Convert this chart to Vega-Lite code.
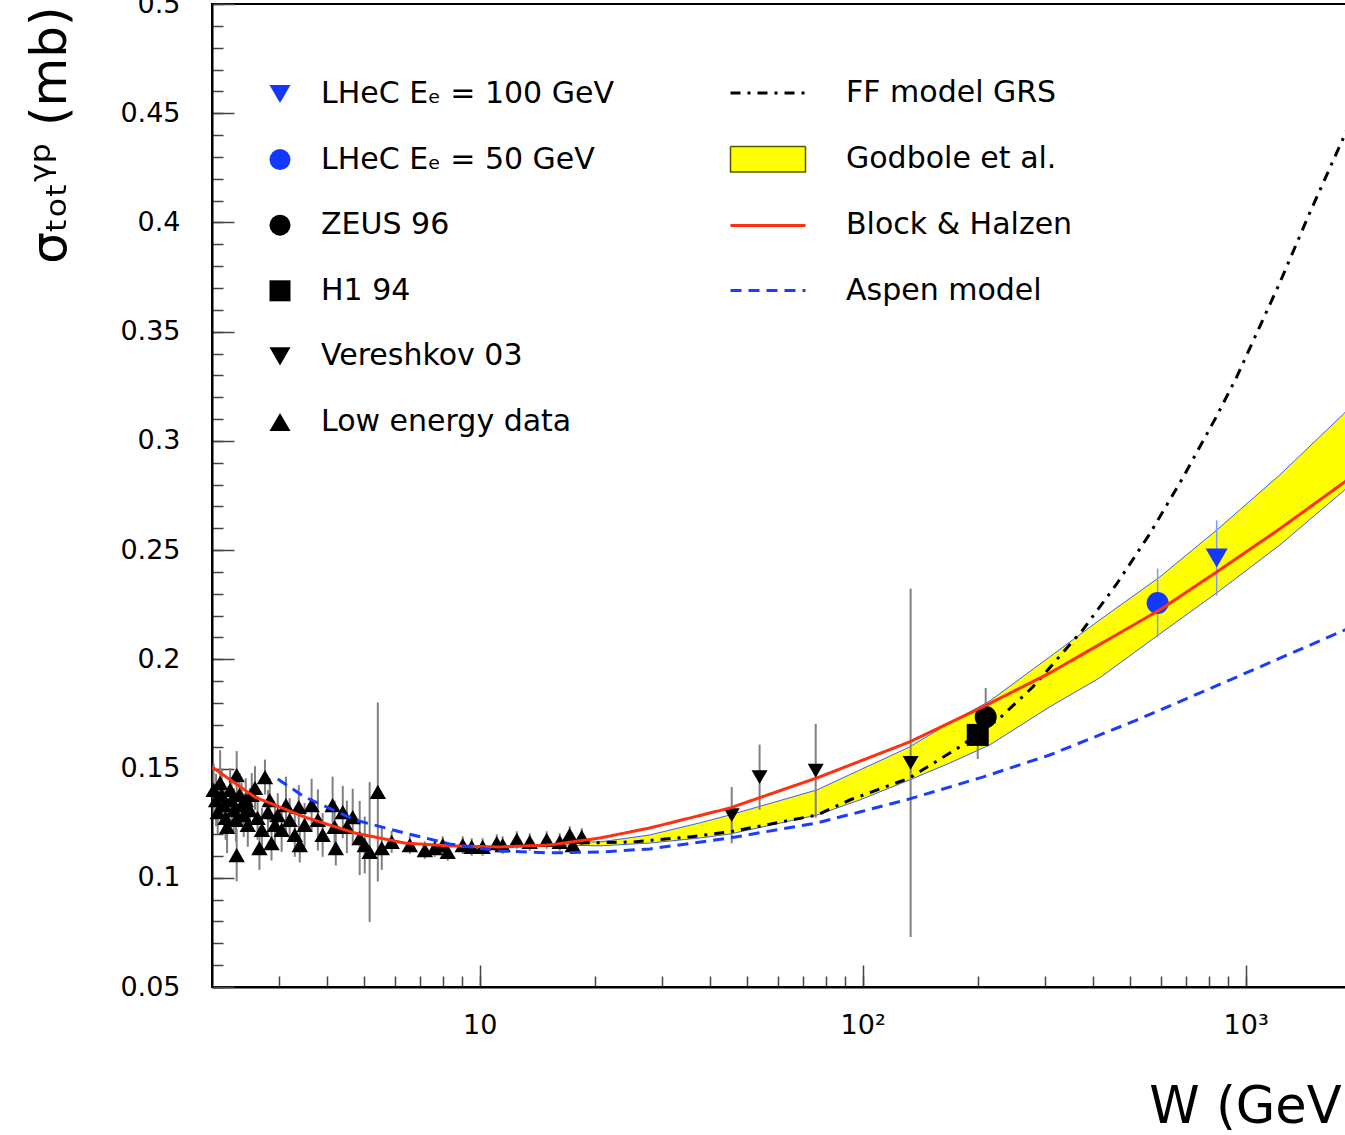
{
  "$schema": "https://vega.github.io/schema/vega-lite/v6.json",
  "width": 1140,
  "height": 983,
  "autosize": {"type": "none"},
  "padding": {"left": 212, "top": 4, "right": -7, "bottom": 148},
  "background": "white",
  "config": {"view": {"stroke": "#000", "strokeWidth": 2}, "font": "DejaVu Sans"},
  "datasets": {
    "band": [
      {"W": 16.47, "s": 0.1150, "s2": 0.1164},
      {"W": 20.6, "s": 0.1146, "s2": 0.1164},
      {"W": 27.8, "s": 0.1159, "s2": 0.1196},
      {"W": 37.5, "s": 0.1182, "s2": 0.1251},
      {"W": 44.9, "s": 0.1200, "s2": 0.1287},
      {"W": 75.9, "s": 0.1287, "s2": 0.1402},
      {"W": 98.2, "s": 0.1356, "s2": 0.1493},
      {"W": 132.6, "s": 0.1448, "s2": 0.1599},
      {"W": 168.7, "s": 0.1525, "s2": 0.1709},
      {"W": 214.6, "s": 0.1608, "s2": 0.1809},
      {"W": 307.7, "s": 0.1782, "s2": 0.2011},
      {"W": 415.6, "s": 0.1915, "s2": 0.2180},
      {"W": 596.5, "s": 0.2116, "s2": 0.2377},
      {"W": 840.3, "s": 0.2304, "s2": 0.2592},
      {"W": 1227, "s": 0.2523, "s2": 0.2844},
      {"W": 1813, "s": 0.2775, "s2": 0.3128},
      {"W": 1895, "s": 0.2820, "s2": 0.3180}
    ],
    "curves": [
      {"model": "FF model GRS", "W": 18.24, "s": 0.1159},
      {"model": "FF model GRS", "W": 25.1, "s": 0.1164},
      {"model": "FF model GRS", "W": 35.3, "s": 0.1187},
      {"model": "FF model GRS", "W": 44.9, "s": 0.1210},
      {"model": "FF model GRS", "W": 75.9, "s": 0.1287},
      {"model": "FF model GRS", "W": 92.5, "s": 0.1356},
      {"model": "FF model GRS", "W": 132.6, "s": 0.1457},
      {"model": "FF model GRS", "W": 179.2, "s": 0.1599},
      {"model": "FF model GRS", "W": 227.9, "s": 0.1731},
      {"model": "FF model GRS", "W": 277.9, "s": 0.1873},
      {"model": "FF model GRS", "W": 375.3, "s": 0.2134},
      {"model": "FF model GRS", "W": 460.5, "s": 0.2345},
      {"model": "FF model GRS", "W": 561.6, "s": 0.2574},
      {"model": "FF model GRS", "W": 684.7, "s": 0.2830},
      {"model": "FF model GRS", "W": 840.3, "s": 0.3114},
      {"model": "FF model GRS", "W": 947, "s": 0.3292},
      {"model": "FF model GRS", "W": 1227, "s": 0.3723},
      {"model": "FF model GRS", "W": 1469, "s": 0.4043},
      {"model": "FF model GRS", "W": 1813, "s": 0.4400},
      {"model": "FF model GRS", "W": 1895, "s": 0.4480},
      {"model": "Block & Halzen", "W": 2.0, "s": 0.1507},
      {"model": "Block & Halzen", "W": 2.585, "s": 0.1370},
      {"model": "Block & Halzen", "W": 3.49, "s": 0.1278},
      {"model": "Block & Halzen", "W": 4.72, "s": 0.1205},
      {"model": "Block & Halzen", "W": 6.37, "s": 0.1159},
      {"model": "Block & Halzen", "W": 8.35, "s": 0.1146},
      {"model": "Block & Halzen", "W": 11.28, "s": 0.1141},
      {"model": "Block & Halzen", "W": 15.23, "s": 0.1150},
      {"model": "Block & Halzen", "W": 20.6, "s": 0.1182},
      {"model": "Block & Halzen", "W": 27.8, "s": 0.1228},
      {"model": "Block & Halzen", "W": 44.9, "s": 0.1319},
      {"model": "Block & Halzen", "W": 75.9, "s": 0.1457},
      {"model": "Block & Halzen", "W": 132.6, "s": 0.1622},
      {"model": "Block & Halzen", "W": 205.8, "s": 0.1782},
      {"model": "Block & Halzen", "W": 307.7, "s": 0.1937},
      {"model": "Block & Halzen", "W": 596.5, "s": 0.2226},
      {"model": "Block & Halzen", "W": 840.3, "s": 0.2400},
      {"model": "Block & Halzen", "W": 1227, "s": 0.2597},
      {"model": "Block & Halzen", "W": 1813, "s": 0.2812},
      {"model": "Block & Halzen", "W": 1895, "s": 0.2840},
      {"model": "Aspen model", "W": 2.97, "s": 0.1452},
      {"model": "Aspen model", "W": 3.49, "s": 0.1370},
      {"model": "Aspen model", "W": 4.72, "s": 0.1265},
      {"model": "Aspen model", "W": 6.37, "s": 0.1205},
      {"model": "Aspen model", "W": 8.35, "s": 0.1155},
      {"model": "Aspen model", "W": 11.28, "s": 0.1123},
      {"model": "Aspen model", "W": 15.23, "s": 0.1114},
      {"model": "Aspen model", "W": 20.6, "s": 0.1118},
      {"model": "Aspen model", "W": 27.8, "s": 0.1132},
      {"model": "Aspen model", "W": 44.9, "s": 0.1182},
      {"model": "Aspen model", "W": 75.9, "s": 0.1251},
      {"model": "Aspen model", "W": 98.2, "s": 0.1301},
      {"model": "Aspen model", "W": 132.6, "s": 0.1361},
      {"model": "Aspen model", "W": 205.8, "s": 0.1461},
      {"model": "Aspen model", "W": 307.7, "s": 0.1562},
      {"model": "Aspen model", "W": 519.4, "s": 0.1722},
      {"model": "Aspen model", "W": 908, "s": 0.1905},
      {"model": "Aspen model", "W": 1813, "s": 0.2134},
      {"model": "Aspen model", "W": 1895, "s": 0.2150}
    ],
    "lowE": [
      {"W": 2.02, "s": 0.1402, "e": 0.012, "series": "Low energy data"},
      {"W": 2.05, "s": 0.1356, "e": 0.012, "series": "Low energy data"},
      {"W": 2.07, "s": 0.1301, "e": 0.010, "series": "Low energy data"},
      {"W": 2.10, "s": 0.1434, "e": 0.015, "series": "Low energy data"},
      {"W": 2.12, "s": 0.1379, "e": 0.012, "series": "Low energy data"},
      {"W": 2.15, "s": 0.1333, "e": 0.010, "series": "Low energy data"},
      {"W": 2.17, "s": 0.1274, "e": 0.010, "series": "Low energy data"},
      {"W": 2.19, "s": 0.1233, "e": 0.012, "series": "Low energy data"},
      {"W": 2.23, "s": 0.1402, "e": 0.010, "series": "Low energy data"},
      {"W": 2.25, "s": 0.1356, "e": 0.010, "series": "Low energy data"},
      {"W": 2.28, "s": 0.1310, "e": 0.010, "series": "Low energy data"},
      {"W": 2.31, "s": 0.1265, "e": 0.010, "series": "Low energy data"},
      {"W": 2.32, "s": 0.1470, "e": 0.011, "series": "Low energy data"},
      {"W": 2.32, "s": 0.1104, "e": 0.012, "series": "Low energy data"},
      {"W": 2.36, "s": 0.1379, "e": 0.010, "series": "Low energy data"},
      {"W": 2.39, "s": 0.1333, "e": 0.010, "series": "Low energy data"},
      {"W": 2.42, "s": 0.1287, "e": 0.010, "series": "Low energy data"},
      {"W": 2.45, "s": 0.1356, "e": 0.010, "series": "Low energy data"},
      {"W": 2.48, "s": 0.1242, "e": 0.010, "series": "Low energy data"},
      {"W": 2.51, "s": 0.1310, "e": 0.010, "series": "Low energy data"},
      {"W": 2.54, "s": 0.1379, "e": 0.010, "series": "Low energy data"},
      {"W": 2.59, "s": 0.1411, "e": 0.010, "series": "Low energy data"},
      {"W": 2.63, "s": 0.1274, "e": 0.010, "series": "Low energy data"},
      {"W": 2.66, "s": 0.1136, "e": 0.010, "series": "Low energy data"},
      {"W": 2.70, "s": 0.1219, "e": 0.010, "series": "Low energy data"},
      {"W": 2.75, "s": 0.1461, "e": 0.008, "series": "Low energy data"},
      {"W": 2.80, "s": 0.1301, "e": 0.010, "series": "Low energy data"},
      {"W": 2.83, "s": 0.1356, "e": 0.010, "series": "Low energy data"},
      {"W": 2.86, "s": 0.1159, "e": 0.008, "series": "Low energy data"},
      {"W": 2.92, "s": 0.1242, "e": 0.010, "series": "Low energy data"},
      {"W": 2.97, "s": 0.1287, "e": 0.010, "series": "Low energy data"},
      {"W": 3.04, "s": 0.1219, "e": 0.010, "series": "Low energy data"},
      {"W": 3.12, "s": 0.1333, "e": 0.013, "series": "Low energy data"},
      {"W": 3.19, "s": 0.1265, "e": 0.010, "series": "Low energy data"},
      {"W": 3.29, "s": 0.1196, "e": 0.010, "series": "Low energy data"},
      {"W": 3.37, "s": 0.1324, "e": 0.010, "series": "Low energy data"},
      {"W": 3.39, "s": 0.1150, "e": 0.008, "series": "Low energy data"},
      {"W": 3.49, "s": 0.1242, "e": 0.010, "series": "Low energy data"},
      {"W": 3.64, "s": 0.1333, "e": 0.012, "series": "Low energy data"},
      {"W": 3.78, "s": 0.1265, "e": 0.014, "series": "Low energy data"},
      {"W": 3.89, "s": 0.1196, "e": 0.010, "series": "Low energy data"},
      {"W": 4.13, "s": 0.1333, "e": 0.013, "series": "Low energy data"},
      {"W": 4.18, "s": 0.1233, "e": 0.012, "series": "Low energy data"},
      {"W": 4.21, "s": 0.1136, "e": 0.008, "series": "Low energy data"},
      {"W": 4.39, "s": 0.1301, "e": 0.012, "series": "Low energy data"},
      {"W": 4.50, "s": 0.1233, "e": 0.012, "series": "Low energy data"},
      {"W": 4.66, "s": 0.1278, "e": 0.013, "series": "Low energy data"},
      {"W": 4.86, "s": 0.1182, "e": 0.017, "series": "Low energy data"},
      {"W": 5.01, "s": 0.1150, "e": 0.013, "series": "Low energy data"},
      {"W": 5.16, "s": 0.1118, "e": 0.032, "series": "Low energy data"},
      {"W": 5.42, "s": 0.1393, "e": 0.041, "series": "Low energy data"},
      {"W": 5.55, "s": 0.1136, "e": 0.010, "series": "Low energy data"},
      {"W": 5.89, "s": 0.1164, "e": 0.005, "series": "Low energy data"},
      {"W": 6.57, "s": 0.1150, "e": 0.004, "series": "Low energy data"},
      {"W": 7.19, "s": 0.1127, "e": 0.004, "series": "Low energy data"},
      {"W": 7.63, "s": 0.1136, "e": 0.004, "series": "Low energy data"},
      {"W": 8.01, "s": 0.1150, "e": 0.004, "series": "Low energy data"},
      {"W": 8.25, "s": 0.1118, "e": 0.004, "series": "Low energy data"},
      {"W": 9.03, "s": 0.1150, "e": 0.004, "series": "Low energy data"},
      {"W": 9.53, "s": 0.1141, "e": 0.004, "series": "Low energy data"},
      {"W": 10.18, "s": 0.1141, "e": 0.004, "series": "Low energy data"},
      {"W": 11.08, "s": 0.1159, "e": 0.004, "series": "Low energy data"},
      {"W": 11.48, "s": 0.1150, "e": 0.004, "series": "Low energy data"},
      {"W": 12.50, "s": 0.1173, "e": 0.004, "series": "Low energy data"},
      {"W": 13.51, "s": 0.1164, "e": 0.004, "series": "Low energy data"},
      {"W": 14.96, "s": 0.1173, "e": 0.004, "series": "Low energy data"},
      {"W": 16.18, "s": 0.1164, "e": 0.004, "series": "Low energy data"},
      {"W": 17.18, "s": 0.1196, "e": 0.004, "series": "Low energy data"},
      {"W": 17.50, "s": 0.1150, "e": 0.004, "series": "Low energy data"},
      {"W": 18.47, "s": 0.1187, "e": 0.004, "series": "Low energy data"}
    ],
    "vere": [
      {"W": 45.5, "s": 0.1287, "e": 0.0129, "series": "Vereshkov 03"},
      {"W": 53.8, "s": 0.1461, "e": 0.0149, "series": "Vereshkov 03"},
      {"W": 75.4, "s": 0.1490, "e": 0.0215, "series": "Vereshkov 03"},
      {"W": 133.4, "s": 0.1526, "e": 0.0797, "series": "Vereshkov 03"}
    ],
    "hera": [
      {"W": 209.5, "s": 0.1736, "e": 0.0133, "series": "ZEUS 96"},
      {"W": 199.7, "s": 0.1654, "e": 0.0110, "series": "H1 94"}
    ],
    "lhec": [
      {"W": 840, "s": 0.2464, "e": 0.0172, "series": "LHeC Eₑ = 100 GeV"},
      {"W": 589, "s": 0.2258, "e": 0.0158, "series": "LHeC Eₑ = 50 GeV"}
    ]
  },
  "encoding": {
    "x": {
      "field": "W", "type": "quantitative", "title": "W (GeV)",
      "scale": {"type": "log", "domain": [2, 1895], "nice": false},
      "axis": {
        "orient": "bottom",
        "values": [3, 4, 5, 6, 7, 8, 9, 10, 20, 30, 40, 50, 60, 70, 80, 90, 100, 200, 300, 400, 500, 600, 700, 800, 900, 1000],
        "labelExpr": "datum.value == 10 ? '10' : datum.value == 100 ? '10²' : datum.value == 1000 ? '10³' : ''",
        "labelFontSize": 27, "labelColor": "#000", "labelBaseline": "alphabetic", "labelPadding": 68,
        "labelOverlap": false, "labelFlush": false,
        "ticks": true, "tickSize": -22, "tickColor": "#444", "tickWidth": 1.5,
        "tickOpacity": {"condition": {"test": "abs(log(datum.value)/LN10 - round(log(datum.value)/LN10)) < 0.000001", "value": 1}, "value": 0},
        "grid": true, "gridDash": [0, 972, 11, 3000], "gridColor": "#444", "gridWidth": 1.5, "gridOpacity": 1,
        "domainColor": "#000", "domainWidth": 2,
        "titleFontSize": 51, "titleFontWeight": "normal", "titleColor": "#000",
        "titleAlign": "right", "titleBaseline": "alphabetic", "titleX": 1149, "titleY": 135
      }
    },
    "y": {
      "field": "s", "type": "quantitative", "title": "σₜₒₜᵞᵖ (mb)",
      "scale": {"domain": [0.05, 0.5], "nice": false, "zero": false},
      "axis": {
        "values": [0.05, 0.06, 0.07, 0.08, 0.09, 0.1, 0.11, 0.12, 0.13, 0.14, 0.15, 0.16, 0.17, 0.18, 0.19, 0.2, 0.21, 0.22, 0.23, 0.24, 0.25, 0.26, 0.27, 0.28, 0.29, 0.3, 0.31, 0.32, 0.33, 0.34, 0.35, 0.36, 0.37, 0.38, 0.39, 0.4, 0.41, 0.42, 0.43, 0.44, 0.45, 0.46, 0.47, 0.48, 0.49, 0.5],
        "labelExpr": "abs(datum.value*20 - round(datum.value*20)) < 0.000001 ? format(datum.value, '.2~f') : ''",
        "labelFontSize": 27, "labelColor": "#000", "labelPadding": 54, "labelOverlap": false, "labelFlush": false,
        "ticks": true, "tickSize": -22, "tickColor": "#444", "tickWidth": 1.5,
        "tickOpacity": {"condition": {"test": "abs(datum.value*20 - round(datum.value*20)) < 0.000001", "value": 1}, "value": 0},
        "grid": true, "gridDash": [11, 3000], "gridColor": "#444", "gridWidth": 1.5, "gridOpacity": 1,
        "domainColor": "#000", "domainWidth": 2,
        "titleFontSize": 50, "titleFontWeight": "normal", "titleColor": "#000",
        "titleAngle": -90, "titleAlign": "right", "titleBaseline": "middle", "titleX": -162, "titleY": 2
      }
    }
  },
  "layer": [
    {
      "data": {"name": "band"},
      "mark": {"type": "area", "fill": "#ffff00", "fillOpacity": 1, "stroke": "#3a5cff", "strokeWidth": 1, "clip": true},
      "encoding": {"y2": {"field": "s2"}}
    },
    {
      "data": {"name": "lowE"},
      "mark": {"type": "errorbar", "color": "#808080", "thickness": 2},
      "encoding": {"yError": {"field": "e"}}
    },
    {
      "data": {"name": "vere"},
      "mark": {"type": "errorbar", "color": "#808080", "thickness": 2},
      "encoding": {"yError": {"field": "e"}}
    },
    {
      "data": {"name": "hera"},
      "mark": {"type": "errorbar", "color": "#808080", "thickness": 2},
      "encoding": {"yError": {"field": "e"}}
    },
    {
      "data": {"name": "lhec"},
      "mark": {"type": "errorbar", "color": "#7f98ff", "thickness": 1.5},
      "encoding": {"yError": {"field": "e"}}
    },
    {
      "data": {"name": "lowE"},
      "mark": {"type": "point", "filled": true, "size": 270, "opacity": 1, "strokeWidth": 0},
      "encoding": {
        "fill": {
          "field": "series", "type": "nominal",
          "scale": {"domain": ["LHeC Eₑ = 100 GeV", "LHeC Eₑ = 50 GeV", "ZEUS 96", "H1 94", "Vereshkov 03", "Low energy data"], "range": ["#1538ff", "#1538ff", "#000000", "#000000", "#000000", "#000000"]},
          "legend": {"orient": "none", "legendX": 53, "legendY": 75, "title": null, "labelFontSize": 30, "labelColor": "#000", "labelOffset": 26, "symbolSize": 441, "rowPadding": 35.6, "padding": 0, "labelLimit": 0, "symbolStrokeWidth": 0, "symbolOpacity": 1}
        },
        "shape": {
          "field": "series", "type": "nominal",
          "scale": {"domain": ["LHeC Eₑ = 100 GeV", "LHeC Eₑ = 50 GeV", "ZEUS 96", "H1 94", "Vereshkov 03", "Low energy data"], "range": ["triangle-down", "circle", "circle", "square", "triangle-down", "triangle-up"]},
          "legend": {"orient": "none", "legendX": 53, "legendY": 75, "title": null, "labelFontSize": 30, "labelColor": "#000", "labelOffset": 26, "symbolSize": 441, "rowPadding": 35.6, "padding": 0, "labelLimit": 0, "symbolStrokeWidth": 0, "symbolOpacity": 1}
        }
      }
    },
    {
      "data": {"name": "vere"},
      "mark": {"type": "point", "filled": true, "size": 256, "opacity": 1, "strokeWidth": 0},
      "encoding": {"fill": {"field": "series", "type": "nominal"}, "shape": {"field": "series", "type": "nominal"}}
    },
    {
      "data": {"name": "hera"},
      "mark": {"type": "point", "filled": true, "size": 484, "opacity": 1, "strokeWidth": 0},
      "encoding": {"fill": {"field": "series", "type": "nominal"}, "shape": {"field": "series", "type": "nominal"}}
    },
    {
      "data": {"name": "lhec"},
      "mark": {"type": "point", "filled": true, "size": 484, "opacity": 1, "strokeWidth": 0},
      "encoding": {"fill": {"field": "series", "type": "nominal"}, "shape": {"field": "series", "type": "nominal"}}
    },
    {
      "data": {"name": "curves"},
      "mark": {"type": "line", "strokeWidth": 3, "clip": true},
      "encoding": {
        "stroke": {
          "field": "model", "type": "nominal",
          "scale": {"domain": ["FF model GRS", "Godbole et al.", "Block & Halzen", "Aspen model"], "range": ["#000000", "#555500", "#ff3010", "#1a3cff"]},
          "legend": {
            "orient": "none", "legendX": 541, "legendY": 74, "title": null, "labelFontSize": 30, "labelColor": "#000",
            "labelOffset": 63, "symbolType": "stroke", "symbolSize": 5625, "symbolStrokeWidth": 3, "rowPadding": 35.2, "padding": 0, "labelLimit": 0,
            "encode": {"symbols": {"update": {
              "shape": {"signal": "datum.value == 'Godbole et al.' ? 'M-1,-0.34H1V0.34H-1Z' : 'stroke'"},
              "fill": {"signal": "datum.value == 'Godbole et al.' ? '#ffff00' : 'transparent'"},
              "strokeWidth": {"signal": "datum.value == 'Godbole et al.' ? 1.5 : 3"}
            }}}
          }
        },
        "strokeDash": {
          "field": "model", "type": "nominal",
          "scale": {"domain": ["FF model GRS", "Godbole et al.", "Block & Halzen", "Aspen model"], "range": [[10, 7, 3, 7], [1, 0], [1, 0], [11, 7]]},
          "legend": {
            "orient": "none", "legendX": 541, "legendY": 74, "title": null, "labelFontSize": 30, "labelColor": "#000",
            "labelOffset": 63, "symbolType": "stroke", "symbolSize": 5625, "symbolStrokeWidth": 3, "rowPadding": 35.2, "padding": 0, "labelLimit": 0
          }
        }
      }
    }
  ]
}
